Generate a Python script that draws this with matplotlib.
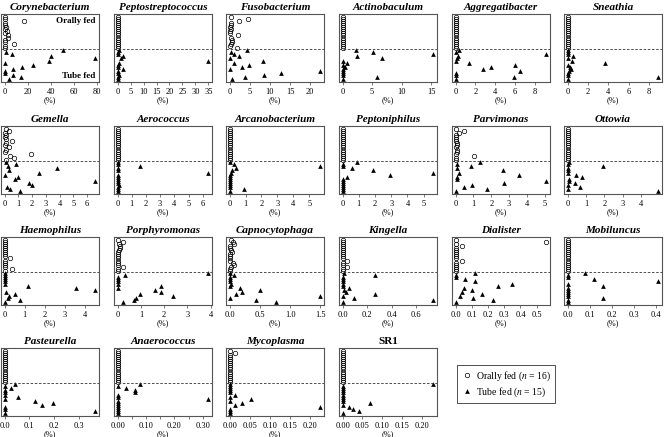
import matplotlib.pyplot as plt

plt.rcParams['font.family'] = ['Liberation Serif', 'DejaVu Serif']
plt.rcParams['mathtext.fontset'] = 'stix'

# relative abundance (%) per subject; oral: 16 values top->bottom, tube: 15 values top->bottom
coryne_oral = [0, 0, 16.7, 0.5, 0, 1, 0.5, 2, 0, 3, 2.5, 0.5, 0, 8.3, 0.5, 0]
coryne_tube = [51, 1, 6.3, 40, 79, 38.5, 0, 25, 15.5, 7, 0, 0.2, 7.5, 14.4, 4]
pepto_oral = [0] * 16
pepto_tube = [0.6, 0, 0.3, 2.2, 1.3, 35, 0.5, 0.3, 0, 1.9, 0.2, 0, 0.4, 0, 0.1]
fuso_oral = [0.3, 4.6, 2.3, 0.4, 0.3, 0.2, 0.4, 0.1, 0.2, 2.0, 0.4, 0.7, 0.5, 0.3, 0.1, 1.8]
fuso_tube = [4.3, 0.3, 1.1, 2.2, 0, 8.2, 1.0, 4.9, 3.0, 0, 22.5, 12.7, 8.6, 3.9, 0.6]
actino_oral = [0] * 16
actino_tube = [2.2, 5.1, 15.4, 2.4, 6.7, 0, 0.7, 0, 0.4, 0.1, 0, 0, 0, 5.8, 0]
aggreg_oral = [0] * 16
aggreg_tube = [0.3, 0, 9.2, 0.2, 0.1, 0, 1.4, 6.0, 3.6, 2.8, 6.5, 0, 0, 5.9, 0]
sneath_oral = [0] * 16
sneath_tube = [0, 0, 0, 0.5, 0, 0.4, 3.7, 0, 0.2, 0.3, 0.1, 0, 0, 8.9, 0]

gemella_oral = [0.1, 0.3, 0.05, 0.1, 0, 0.1, 0.5, 0.1, 0.05, 0.3, 0.1, 0, 1.9, 0.4, 0.7, 0.1]
gemella_tube = [0.1, 0.8, 0.25, 3.8, 0.3, 2.5, 0, 1.0, 0.75, 6.6, 1.8, 2.0, 0.15, 0.4, 1.1]
aero_oral = [0] * 16
aero_tube = [0, 0, 1.6, 0, 0, 6.4, 0, 0, 0, 0, 0.05, 0.1, 0, 0, 0]
arcano_oral = [0] * 16
arcano_tube = [0, 0.3, 5.7, 0.4, 0.15, 0.1, 0.05, 0, 0, 0, 0, 0, 0, 0.9, 0]
pepton_oral = [0] * 16
pepton_tube = [0.9, 0, 0, 0.6, 1.9, 5.6, 2.9, 0.3, 0, 0, 0, 0, 0, 0, 0]
parvi_oral = [0, 0.45, 0.2, 0, 0, 0, 0, 0.05, 0.05, 0, 0.1, 0.1, 0, 1.05, 0, 0]
parvi_tube = [1.35, 0.05, 0.85, 0.1, 2.65, 0.2, 3.55, 0.1, 0.05, 5.1, 2.7, 0.9, 0.45, 1.75, 0]
ottowia_oral = [0] * 16
ottowia_tube = [0.05, 0, 1.95, 0, 0, 0, 0.45, 0.8, 0.1, 0.05, 0.4, 0, 0.7, 0, 4.95]

haemo_oral = [0, 0, 0, 0, 0, 0, 0, 0, 0, 0.26, 0, 0, 0, 0, 0.37, 0]
haemo_tube = [0, 0, 0, 0, 0, 0, 1.15, 3.55, 4.5, 0.05, 0.5, 0.2, 0.15, 0.75, 0]
porph_oral = [0, 0.23, 0.05, 0.1, 0.12, 0.05, 0, 0, 0, 0, 0, 0, 0, 0.23, 0, 0]
porph_tube = [3.9, 0.33, 0, 0, 0.02, 0, 1.85, 0, 1.6, 1.85, 0.95, 2.4, 0.8, 0.7, 0.25]
capno_oral = [0.03, 0.06, 0.07, 0.01, 0, 0.02, 0.04, 0.01, 0, 0, 0, 0.05, 0.07, 0.02, 0, 0]
capno_tube = [0, 0.07, 0, 0, 0.01, 0.02, 0, 0.17, 0.5, 0.2, 0.1, 1.5, 0, 0.43, 0.76]
kingella_oral = [0, 0, 0, 0, 0, 0, 0, 0, 0, 0, 0.035, 0, 0, 0.035, 0, 0]
kingella_tube = [0.01, 0.26, 0, 0, 0, 0, 0, 0.05, 0.01, 0.03, 0.26, 0, 0.09, 0.74, 0]
dialister_oral = [0, 0.56, 0, 0.04, 0, 0, 0, 0, 0, 0, 0.04, 0, 0, 0, 0, 0]
dialister_tube = [0.12, 0, 0, 0.06, 0.12, 0.35, 0.26, 0.05, 0.1, 0.04, 0.16, 0.03, 0.11, 0.23, 0]
mobil_oral = [0] * 16
mobil_tube = [0.08, 0, 0, 0.12, 0.41, 0, 0.16, 0, 0, 0, 0, 0, 0.16, 0, 0]

paste_oral = [0] * 16
paste_tube = [0.04, 0, 0.027, 0, 0, 0, 0.053, 0, 0.124, 0.194, 0.15, 0, 0, 0.367, 0]
anaero_oral = [0] * 16
anaero_tube = [0.08, 0, 0.03, 0.06, 0.06, 0, 0, 0.32, 0, 0, 0, 0, 0, 0, 0]
myco_oral = [0, 0.014] + [0] * 14
myco_tube = [0, 0, 0, 0, 0, 0.014, 0, 0.053, 0, 0.031, 0.014, 0.226, 0, 0, 0]
sr1_oral = [0] * 16
sr1_tube = [0.229, 0, 0, 0, 0, 0, 0, 0, 0, 0.068, 0, 0.017, 0.025, 0.042, 0]

genera = ['Corynebacterium', 'Peptostreptococcus', 'Fusobacterium', 'Actinobaculum',
          'Aggregatibacter', 'Sneathia', 'Gemella', 'Aerococcus', 'Arcanobacterium',
          'Peptoniphilus', 'Parvimonas', 'Ottowia', 'Haemophilus', 'Porphyromonas',
          'Capnocytophaga', 'Kingella', 'Dialister', 'Mobiluncus', 'Pasteurella',
          'Anaerococcus', 'Mycoplasma', 'SR1']
oral_sets = [coryne_oral, pepto_oral, fuso_oral, actino_oral, aggreg_oral, sneath_oral,
             gemella_oral, aero_oral, arcano_oral, pepton_oral, parvi_oral, ottowia_oral,
             haemo_oral, porph_oral, capno_oral, kingella_oral, dialister_oral, mobil_oral,
             paste_oral, anaero_oral, myco_oral, sr1_oral]
tube_sets = [coryne_tube, pepto_tube, fuso_tube, actino_tube, aggreg_tube, sneath_tube,
             gemella_tube, aero_tube, arcano_tube, pepton_tube, parvi_tube, ottowia_tube,
             haemo_tube, porph_tube, capno_tube, kingella_tube, dialister_tube, mobil_tube,
             paste_tube, anaero_tube, myco_tube, sr1_tube]
x_ticks = [[0, 20, 40, 60, 80], [0, 5, 10, 15, 20, 25, 30, 35], [0, 5, 10, 15, 20],
           [0, 5, 10, 15], [0, 2, 4, 6, 8], [0, 2, 4, 6, 8],
           [0, 1, 2, 3, 4, 5, 6], [0, 1, 2, 3, 4, 5, 6], [0, 1, 2, 3, 4, 5],
           [0, 1, 2, 3, 4, 5], [0, 1, 2, 3, 4, 5], [0, 1, 2, 3, 4],
           [0, 1, 2, 3, 4], [0, 1, 2, 3, 4], [0.0, 0.5, 1.0, 1.5],
           [0.0, 0.2, 0.4, 0.6], [0.0, 0.1, 0.2, 0.3, 0.4, 0.5], [0.0, 0.1, 0.2, 0.3, 0.4],
           [0.0, 0.1, 0.2, 0.3], [0.0, 0.05, 0.1, 0.15, 0.2, 0.25, 0.3],
           [0.0, 0.05, 0.1, 0.15, 0.2], [0.0, 0.05, 0.1, 0.15, 0.2]]
tick_fmt = ['{:g}'] * 14 + ['{:.1f}'] * 5 + ['{:.2f}'] * 3

W, H = 664, 437
fig = plt.figure(figsize=(6.64, 4.37), dpi=100)
col_left = [1, 114, 226, 339, 452, 564]
row_top = [14, 126, 237, 348]
pw, ph = 98, 68

for i, name in enumerate(genera):
    r, c = divmod(i, 6)
    ax = fig.add_axes([col_left[c] / W, 1 - (row_top[r] + ph) / H, pw / W, ph / H])
    oral = oral_sets[i]
    tube = tube_sets[i]
    ax.plot(oral, range(31, 15, -1), 'o', mfc='none', mec='black', ms=3.2, mew=0.5)
    ax.plot(tube, range(15, 0, -1), '^', color='black', ms=3.4, mew=0)
    ax.axhline(15.5, ls=(0, (3, 2)), color='#333333', lw=0.6)
    xmax = max(max(oral), max(tube))
    ax.set_xlim(-0.04 * xmax, 1.04 * xmax)
    ax.set_ylim(-0.2, 32.2)
    ax.set_yticks([])
    ticks = x_ticks[i]
    labels = [tick_fmt[i].format(t) for t in ticks]
    if name == 'Anaerococcus':
        labels = [lb if k % 2 == 0 else '' for k, lb in enumerate(labels)]
    ax.set_xticks(ticks)
    ax.set_xticklabels(labels)
    ax.tick_params(axis='x', labelsize=6, length=2.5, width=0.5, pad=2, color='#444444')
    ax.set_xlabel('(%)', fontsize=6, labelpad=0)
    for s in ax.spines.values():
        s.set_color('#555555')
        s.set_linewidth(0.8)
    ax.set_title(name, fontsize=8, fontweight='bold',
                 style='normal' if name == 'SR1' else 'italic', pad=3)
    if i == 0:
        ax.text(0.96, 0.87, 'Orally fed', transform=ax.transAxes, ha='right',
                fontsize=6.5, fontweight='bold')
        ax.text(0.96, 0.06, 'Tube fed', transform=ax.transAxes, ha='right',
                fontsize=6.5, fontweight='bold')

h1, = plt.plot([], [], 'o', mfc='none', mec='black', ms=3.2, mew=0.5)
h2, = plt.plot([], [], '^', color='black', ms=3.4, mew=0)
fig.legend([h1, h2], ['Orally fed ($n$ = 16)', 'Tube fed ($n$ = 15)'],
           loc='center', bbox_to_anchor=(506 / W, 1 - 384 / H), fontsize=7,
           frameon=True, fancybox=False, edgecolor='black', handletextpad=0.3,
           handlelength=1.2, borderpad=0.4, labelspacing=0.3).get_frame().set_linewidth(0.6)

fig.savefig('out.png', dpi=100)
